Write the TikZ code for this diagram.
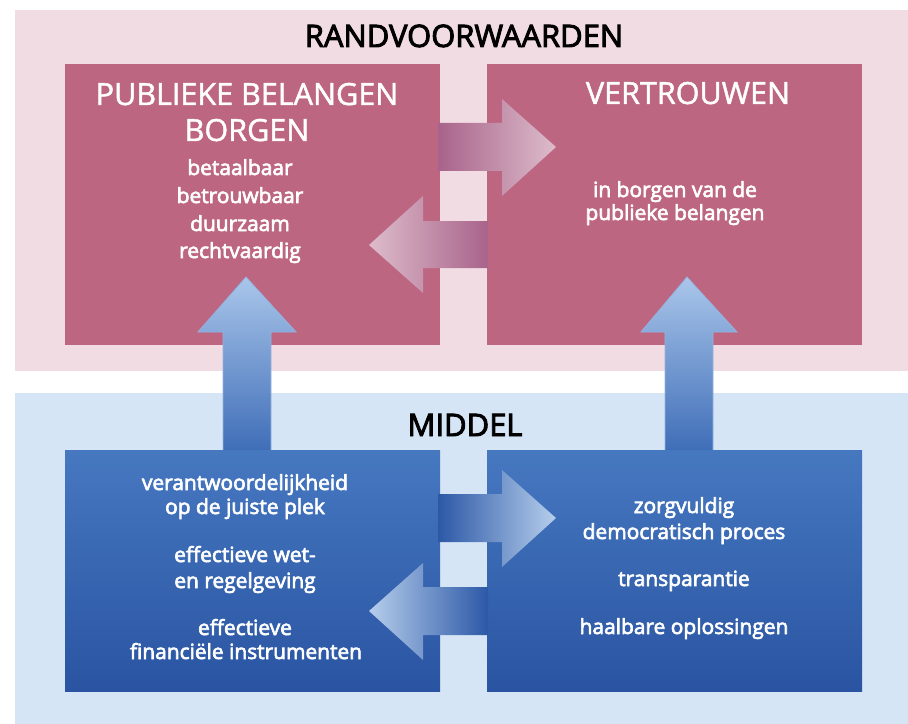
\documentclass[tikz,border=0pt]{standalone}
\usepackage{fontspec}
\setmainfont{Open Sans}
\newfontfamily\medfont{Open Sans}[FakeBold=3]
\newfontfamily\titfont{Open Sans}[FakeBold=1.5]
\definecolor{pinkbg}{HTML}{F2DCE4}
\definecolor{pinkbox}{HTML}{BD6682}
\definecolor{bluebg}{HTML}{D5E5F6}
\definecolor{bluetop}{HTML}{4678C0}
\definecolor{bluebot}{HTML}{2A54A2}
\definecolor{pinkdark}{HTML}{A8638A}
\definecolor{pinklight}{HTML}{DDBCCB}
\definecolor{bluedark}{HTML}{2C58A6}
\definecolor{bluelight}{HTML}{B6CEEC}
\definecolor{vtop}{HTML}{AAC6EA}
\definecolor{vbot}{HTML}{3E6DB7}
\tikzset{
  box/.style={draw=none, inner sep=0pt, minimum width=375*0.75pt},
  pinkboxst/.style={box, fill=pinkbox, minimum height=281*0.75pt},
  blueboxst/.style={box, top color=bluetop, bottom color=bluebot, minimum height=241*0.75pt},
  headtxt/.style={anchor=base, inner sep=0pt, text=black, font=\medfont\fontsize{23.2pt}{26pt}\selectfont},
  titletxt/.style={anchor=base, inner sep=0pt, text=white, font=\titfont\fontsize{22.9pt}{26pt}\selectfont},
  bodytxt/.style={anchor=base, inner sep=0pt, text=white, font=\medfont\fontsize{15.7pt}{18pt}\selectfont},
}
\begin{document}
\begin{tikzpicture}[x=0.75pt, y=-0.75pt]
\useasboundingbox (0,0) rectangle (908,724);
% backgrounds
\fill[pinkbg] (15,10) rectangle (908,371);
\fill[bluebg] (15,393) rectangle (908,724);
% boxes
\node[pinkboxst] (pb) at (252.5,204.5) {};
\node[pinkboxst] (vt) at (674.5,204.5) {};
% vertical arrows
\shadedraw[draw=vtop!80!vbot, line width=0.6pt, top color=vtop, bottom color=vbot]
  (246,277) -- (296,332) -- (271,332) -- (271,452) -- (223,452) -- (223,332) -- (198,332) -- cycle;
\shadedraw[draw=vtop!80!vbot, line width=0.6pt, top color=vtop, bottom color=vbot]
  (687,277) -- (737,332) -- (713,332) -- (713,452) -- (665,452) -- (665,332) -- (641,332) -- cycle;
\node[blueboxst] (vw) at (252.5,570.5) {};
\node[blueboxst] (dp) at (674.5,570.5) {};
% horizontal pink arrows
\shade[left color=pinkdark, right color=pinklight]
  (438,123) -- (502,123) -- (502,99) -- (556,147) -- (502,196) -- (502,171) -- (438,171) -- cycle;
\shade[left color=pinklight, right color=pinkdark]
  (369,245) -- (423,196) -- (423,221) -- (488,221) -- (488,268) -- (423,268) -- (423,293) -- cycle;
% horizontal blue arrows
\shade[left color=bluedark, right color=bluelight]
  (438,494) -- (502,494) -- (502,470) -- (556,518) -- (502,567) -- (502,542) -- (438,542) -- cycle;
\shade[left color=bluelight, right color=bluedark]
  (369,611) -- (423,563) -- (423,587) -- (488,587) -- (488,635) -- (423,635) -- (423,660) -- cycle;
% headings
\node[headtxt] (h1) at (464,47) {RANDVOORWAARDEN};
\node[headtxt] (h2) at (465,436) {MIDDEL};
% pink box texts
\node[titletxt] (t1) at (247,105) {PUBLIEKE BELANGEN};
\node[titletxt] (t2) at (247,141) {BORGEN};
\node[bodytxt] (a1) at (240,175) {betaalbaar};
\node[bodytxt] (a2) at (240,203) {betrouwbaar};
\node[bodytxt] (a3) at (240,231) {duurzaam};
\node[bodytxt] (a4) at (240,258) {rechtvaardig};
\node[titletxt] (t3) at (688,104) {VERTROUWEN};
\node[bodytxt] (b1) at (675,197) {in borgen van de};
\node[bodytxt] (b2) at (675,220) {publieke belangen};
% blue box texts
\node[bodytxt] (c1) at (245,490) {verantwoordelijkheid};
\node[bodytxt] (c2) at (245,514) {op de juiste plek};
\node[bodytxt] (c3) at (245,562) {effectieve wet-};
\node[bodytxt] (c4) at (245,588) {en regelgeving};
\node[bodytxt] (c5) at (245,635) {effectieve};
\node[bodytxt] (c6) at (246,659) {financiële instrumenten};
\node[bodytxt] (d1) at (684,513) {zorgvuldig};
\node[bodytxt] (d2) at (684,539) {democratisch proces};
\node[bodytxt] (d3) at (684,586) {transparantie};
\node[bodytxt] (d4) at (684,634) {haalbare oplossingen};
\end{tikzpicture}
\end{document}
